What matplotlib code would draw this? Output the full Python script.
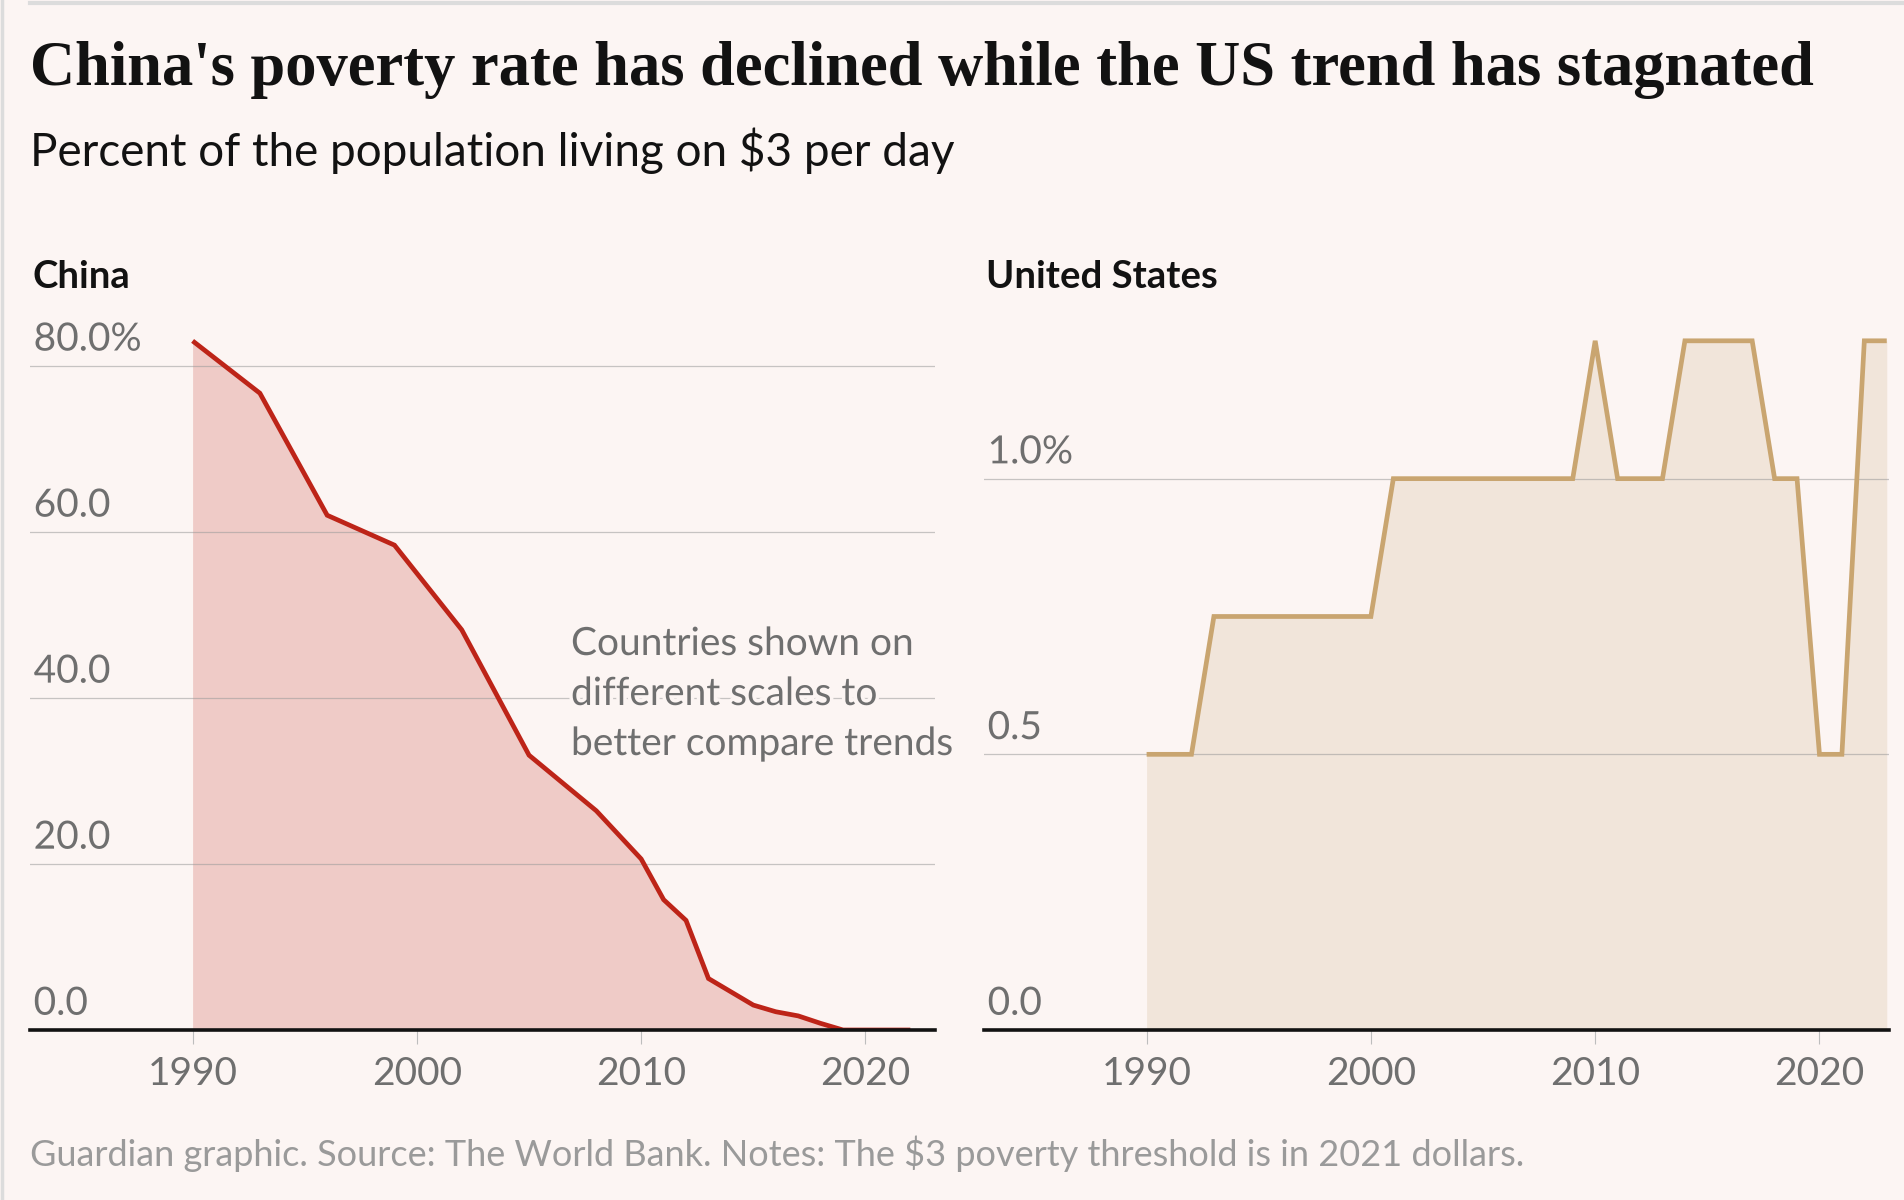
import matplotlib.pyplot as plt
import matplotlib.patheffects as pe

# China, percent living on $3/day
china_years = [1990, 1993, 1996, 1999, 2002, 2005, 2008, 2010, 2011, 2012,
               2013, 2014, 2015, 2016, 2017, 2018, 2019, 2020, 2021, 2022]
china_rate = [83.0, 76.7, 62.0, 58.4, 48.2, 33.1, 26.4, 20.6, 15.7, 13.2,
              6.2, 4.6, 3.0, 2.2, 1.7, 0.8, 0.0, 0.0, 0.0, 0.0]

# United States, percent living on $3/day
us_years = list(range(1990, 2024))
us_rate = [0.5, 0.5, 0.5,
           0.75, 0.75, 0.75, 0.75, 0.75, 0.75, 0.75, 0.75,
           1.0, 1.0, 1.0, 1.0, 1.0, 1.0, 1.0, 1.0, 1.0,
           1.25,
           1.0, 1.0, 1.0,
           1.25, 1.25, 1.25, 1.25,
           1.0, 1.0,
           0.5, 0.5,
           1.25, 1.25]

china_ticks = [0, 20, 40, 60, 80]
china_labels = ['0.0', '20.0', '40.0', '60.0', '80.0%']
us_ticks = [0, 0.5, 1.0]
us_labels = ['0.0', '0.5', '1.0%']
year_ticks = [1990, 2000, 2010, 2020]
note_lines = ['Countries shown on', 'different scales to', 'better compare trends']

W, H = 1904, 1200
bg = '#fcf5f3'
grey = '#6f6f6f'
sans = ['Lato', 'DejaVu Sans']

fig = plt.figure(figsize=(W / 100, H / 100), dpi=100, facecolor=bg)


def fx(px):
    return px / W


def fy(py):
    return 1 - py / H


halo = [pe.withStroke(linewidth=5, foreground=bg)]


def panel(left, years, rate, ticks, labels, top, line_col, fill_col):
    ax = fig.add_axes([fx(left), fy(1030), 905 / W, 714 / H], facecolor='none')
    ax.fill_between(years, rate, 0, color=fill_col, lw=0, zorder=1)
    ax.plot(years, rate, color=line_col, lw=3.4, zorder=3,
            solid_joinstyle='miter', solid_capstyle='butt')
    for t, lab in zip(ticks, labels):
        if t > 0:
            ax.axhline(t, color='#9a9a9a', alpha=0.55, lw=0.9, zorder=2)
        ax.annotate(lab, xy=(0.004, t), xycoords=('axes fraction', 'data'),
                    xytext=(0, 11), textcoords='offset points', va='baseline',
                    ha='left', fontsize=28, color=grey, family=sans,
                    path_effects=halo, zorder=4)
    ax.set_xlim(1982.75, 2023.1)
    ax.set_ylim(0, top)
    ax.set_yticks([])
    ax.set_xticks(year_ticks)
    ax.set_xticklabels([str(y) for y in year_ticks], family=sans)
    ax.tick_params(axis='x', length=10, width=0.8, color='#bdbdbd',
                   labelsize=28, labelcolor=grey, pad=9)
    for s in ['left', 'right', 'top']:
        ax.spines[s].set_visible(False)
    ax.spines['bottom'].set_color('#121212')
    ax.spines['bottom'].set_linewidth(2.6)
    ax.spines['bottom'].set_zorder(5)
    return ax


ax1 = panel(30, china_years, china_rate, china_ticks, china_labels, 86.0,
            '#bd2418', '#efcbc7')
ax2 = panel(984, us_years, us_rate, us_ticks, us_labels, 1.295,
            '#c9a570', '#f1e5da')

for i, line in enumerate(note_lines):
    fig.text(fx(571), fy(655 + 50 * i), line, fontsize=28, color=grey,
             family=sans, va='baseline', ha='left', path_effects=halo,
             zorder=6)

# headers
fig.text(fx(30), fy(85), "China's poverty rate has declined while the US trend has stagnated",
         fontsize=45, weight='bold', family=['Liberation Serif', 'DejaVu Serif'],
         color='#121212', va='baseline')
fig.text(fx(30), fy(166), 'Percent of the population living on $3 per day',
         fontsize=33, family=sans, color='#121212', va='baseline')
fig.text(fx(33), fy(288), 'China', fontsize=27.5, weight='bold', family=sans,
         color='#121212', va='baseline')
fig.text(fx(986), fy(288), 'United States', fontsize=27.5, weight='bold',
         family=sans, color='#121212', va='baseline')
fig.text(fx(30), fy(1166), 'Guardian graphic. Source: The World Bank. Notes: The $3 poverty threshold is in 2021 dollars.',
         fontsize=26, family=sans, color='#9a9a9a', va='baseline')

# frame lines
fig.add_artist(plt.Line2D([fx(30), 1], [fy(2.5), fy(2.5)], color='#dcdcdc', lw=3))
fig.add_artist(plt.Line2D([fx(1.5), fx(1.5)], [0, 1], color='#dcdcdc', lw=2.5))

fig.savefig('out.png', dpi=100, facecolor=bg)
